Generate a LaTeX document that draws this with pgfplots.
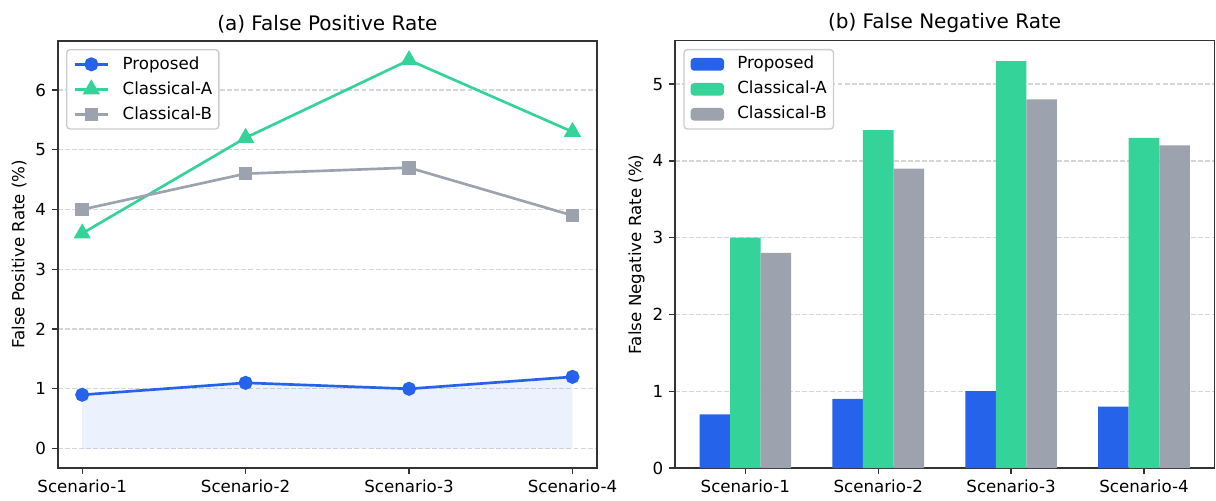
\documentclass[border=0pt]{standalone}
\usepackage{fontspec}
\setmainfont{DejaVu Sans}
\usepackage{pgfplots}
\pgfplotsset{compat=1.18}
\definecolor{cblue}{HTML}{2563EB}
\definecolor{cgreen}{HTML}{34D399}
\definecolor{cgray}{HTML}{9CA3AF}
\definecolor{cframe}{HTML}{333333}
\definecolor{cgrid}{HTML}{D6D6D6}
\definecolor{clegend}{HTML}{CCCCCC}

\pgfplotsset{
 common/.style={
  scale only axis, width=323.6pt, height=256.4pt,
  axis line style={cframe, line width=1pt},
  tick style={cframe, line width=0.8pt},
  tick align=outside, major tick length=3.5pt,
  tick pos=left,
  ymajorgrids,
  grid style={cgrid, line width=0.8pt, dash pattern=on 2.96pt off 1.28pt},
  xtick={0,1,2,3},
  xticklabels={Scenario-1,Scenario-2,Scenario-3,Scenario-4},
  tick label style={font=\fontsize{10}{12}\selectfont},
  /pgf/number format/assume math mode=true,
  label style={font=\fontsize{10}{12}\selectfont},
  title style={font=\fontsize{12}{14}\selectfont, at={(0.5,1)}, anchor=south, yshift=-1.5pt, inner sep=0pt},
  legend cell align=left,
  legend style={at={(0,1)}, anchor=north west, xshift=5pt, yshift=-5pt,
    draw=clegend, line width=0.8pt, rounded corners=2pt, fill=white,
    font=\fontsize{10}{12}\selectfont,
    nodes={inner sep=0pt, text height=7.6pt, text depth=2pt},
    row sep=5.4pt, inner xsep=4pt, inner ysep=4pt,
    /tikz/every odd column/.append style={column sep=8pt}},
 }
}

\begin{document}
\begin{tikzpicture}
\useasboundingbox (0,0) rectangle (729.6pt,300pt);

\begin{axis}[common,
  at={(34.6pt,19.2pt)}, anchor=south west,
  xmin=-0.15, xmax=3.15, ymin=-0.325, ymax=6.825,
  ytick={0,1,2,3,4,5,6},
  title={(a) False Positive Rate},
  ylabel={False Positive Rate (\%)},
  ylabel style={at={(axis description cs:-0.0569,0.5)}, anchor=south, inner sep=0pt},
  legend image code/.code={\draw[mark repeat=2,mark phase=2,#1] plot coordinates {(0pt,0pt) (10pt,0pt) (20pt,0pt)};},
]
\addplot[forget plot, draw=none, fill=cblue, fill opacity=0.09] coordinates {(0,0.9) (1,1.1) (2,1.0) (3,1.2)} \closedcycle;
\addplot[cblue, line width=1.6pt, mark=*, mark size=3.4pt, mark options={solid, draw=none, fill=cblue}]
  coordinates {(0,0.9) (1,1.1) (2,1.0) (3,1.2)};
\addlegendentry{Proposed}
\addplot[cgreen, line width=1.6pt, mark=triangle*, mark size=4.4pt, mark options={solid, draw=none, fill=cgreen}]
  coordinates {(0,3.6) (1,5.2) (2,6.5) (3,5.3)};
\addlegendentry{Classical-A}
\addplot[cgray, line width=1.6pt, mark=square*, mark size=3.3pt, mark options={solid, draw=none, fill=cgray}]
  coordinates {(0,4.0) (1,4.6) (2,4.7) (3,3.9)};
\addlegendentry{Classical-B}
\end{axis}

\begin{axis}[common,
  at={(405pt,19.2pt)}, anchor=south west,
  xmin=-0.5295, xmax=3.5295, ymin=0, ymax=5.565,
  ytick={0,1,2,3,4,5},
  ybar, bar width=0.23,
  title={(b) False Negative Rate},
  ylabel={False Negative Rate (\%)},
  ylabel style={at={(axis description cs:-0.056,0.5)}, anchor=south, inner sep=0pt},
  legend image code/.code={\fill[#1, draw=none] (0pt,-3.8pt) rectangle (20pt,3.8pt);},
]
\addplot[fill=cblue, draw=none, bar shift=-0.23]
  coordinates {(0,0.7) (1,0.9) (2,1.0) (3,0.8)};
\addlegendentry{Proposed}
\addplot[fill=cgreen, draw=none, bar shift=0]
  coordinates {(0,3.0) (1,4.4) (2,5.3) (3,4.3)};
\addlegendentry{Classical-A}
\addplot[fill=cgray, draw=none, bar shift=0.23]
  coordinates {(0,2.8) (1,3.9) (2,4.8) (3,4.2)};
\addlegendentry{Classical-B}
\end{axis}
\end{tikzpicture}
\end{document}
